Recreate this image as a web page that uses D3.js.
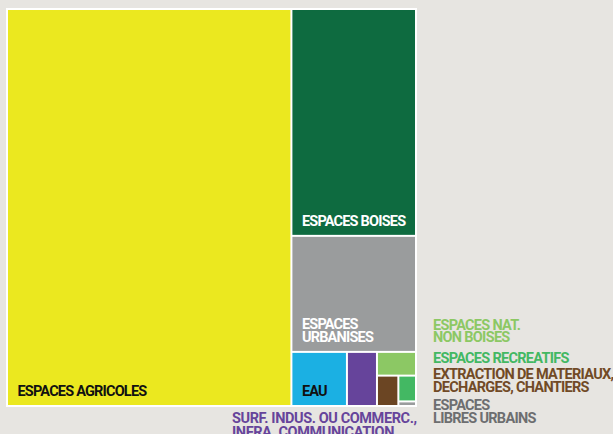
<!DOCTYPE html>
<html>
<head>
  <meta charset="utf-8">
  <title>Occupation du sol - treemap</title>
  <style>
    body {
      margin: 0;
      background: #e7e5e1;
      font-family: Roboto, "DejaVu Sans Condensed", sans-serif;
      font-weight: 700;
    }
    svg { display: block; }
    .cell-label { font-size: 14.5px; letter-spacing: -0.8px; }
    .side-label { font-size: 14.5px; letter-spacing: -0.7px; }
    .side-label.big { font-size: 14.5px; letter-spacing: -0.4px; }
  </style>
  <script src="https://d3js.org/d3.v7.min.js"></script>
</head>
<body>
  <div id="chart"></div>

  <script>
    // Categories, their share (%) and colours
    const names = ["agricoles", "boises", "urbanises", "eau", "indus", "natnb", "extraction", "recreatifs", "libres"];
    const values = [69.5, 17.4, 8.9, 1.85, 1.0, 0.57, 0.4, 0.28, 0.05];
    const colors = ["#ebe81f", "#0e6b40", "#9a9c9d", "#1bb0e3", "#66449b", "#8cc864", "#6b4523", "#43b863", "#9a9c9d"];

    // Labels: inside the cell for big ones, outside for small ones
    const labels = [
      ["ESPACES AGRICOLES"],
      ["ESPACES BOISES"],
      ["ESPACES", "URBANISES"],
      ["EAU"],
      ["SURF. INDUS. OU COMMERC.,", "INFRA. COMMUNICATION"],
      ["ESPACES NAT.", "NON BOISES"],
      ["EXTRACTION DE MATERIAUX,", "DECHARGES, CHANTIERS"],
      ["ESPACES RECREATIFS"],
      ["ESPACES", "LIBRES URBAINS"]
    ];
    const inside = ["agricoles", "boises", "urbanises", "eau"];
    const insideText = { agricoles: "#111", boises: "#fff", urbanises: "#fff", eau: "#111" };
    const textColors = { indus: "#66449b", natnb: "#8cc864", extraction: "#714a26", recreatifs: "#43b863", libres: "#6d6e70" };

    const W = 613, H = 434;
    const box = { x: 6, y: 8, w: 411, h: 399 };

    const svg = d3.select("#chart")
      .append("svg")
      .attr("width", W)
      .attr("height", H);

    const data = {
      name: "root",
      children: names.map((n, i) => ({ name: n, value: values[i], color: colors[i], lines: labels[i] }))
    };

    const root = d3.hierarchy(data)
      .sum(d => d.value || 0)
      .sort((a, b) => b.value - a.value);

    d3.treemap()
      .tile(d3.treemapSquarify.ratio(1))
      .size([box.w, box.h])
      .paddingOuter(2)
      .paddingInner(2)(root);

    const g = svg.append("g")
      .attr("transform", `translate(${box.x},${box.y})`);

    // white frame behind the cells
    g.append("rect")
      .attr("width", box.w)
      .attr("height", box.h)
      .attr("fill", "#fff");

    const cells = g.selectAll("g.cell")
      .data(root.leaves())
      .join("g")
      .attr("class", "cell")
      .attr("transform", d => `translate(${d.x0},${d.y0})`);

    cells.append("rect")
      .attr("width", d => d.x1 - d.x0)
      .attr("height", d => d.y1 - d.y0)
      .attr("fill", d => d.data.color);

    // labels inside the big cells, anchored bottom-left
    const lineH = 12.5;
    cells.filter(d => inside.includes(d.data.name))
      .each(function (d) {
        const lines = d.data.lines;
        const t = d3.select(this).append("text")
          .attr("class", "cell-label")
          .attr("fill", insideText[d.data.name]);
        lines.forEach((l, i) => {
          t.append("tspan")
            .attr("x", 9.5)
            .attr("y", (d.y1 - d.y0) - 9 - (lines.length - 1 - i) * lineH)
            .text(l);
        });
      });

    // labels outside the treemap
    const leaf = n => root.leaves().find(d => d.data.name === n);
    const outside = [
      { name: "indus", x: 232, y: 423, lh: 14, big: true },
      { name: "natnb", x: 433, y: 329.5, lh: 12.7 },
      { name: "recreatifs", x: 433, y: 362.7, lh: 12.7 },
      { name: "extraction", x: 433, y: 379, lh: 12.7 },
      { name: "libres", x: 433, y: 410, lh: 12.7 }
    ];
    outside.forEach(o => {
      const d = leaf(o.name);
      const t = svg.append("text")
        .attr("class", o.big ? "side-label big" : "side-label")
        .attr("fill", textColors[o.name]);
      d.data.lines.forEach((l, i) => {
        t.append("tspan")
          .attr("x", o.x)
          .attr("y", o.y + i * o.lh)
          .text(l);
      });
    });
  </script>
</body>
</html>
